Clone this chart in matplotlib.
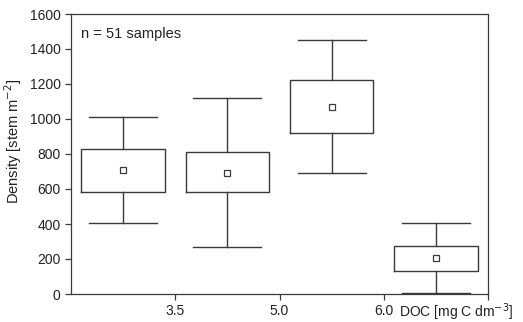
import matplotlib
matplotlib.use("Agg")
import matplotlib.pyplot as plt

plt.rcParams['font.family'] = ['Liberation Sans', 'DejaVu Sans']

# Box statistics (stem m^-2)
whisker_low = [404, 270, 693, 4]
q1 = [585, 585, 922, 133]
q3 = [827, 810, 1223, 274]
whisker_high = [1010, 1122, 1450, 404]
means = [707, 693, 1069, 204]

tick_positions = [0.5, 1.5, 2.5]
tick_labels = ["3.5", "5.0", "6.0"]
yticks = [0, 200, 400, 600, 800, 1000, 1200, 1400, 1600]

line_color = "#3a3a3a"
text_color = "#222222"

stats = []
for i in range(len(means)):
    stats.append({
        "whislo": whisker_low[i], "q1": q1[i], "med": means[i],
        "q3": q3[i], "whishi": whisker_high[i], "mean": means[i],
        "fliers": [],
    })

fig = plt.figure(figsize=(5.23, 3.22), dpi=100)
ax = fig.add_axes([71 / 523, 1 - 294 / 322, (488 - 71) / 523, (294 - 14) / 322])

lp = dict(color=line_color, linewidth=1.0)
ax.bxp(stats, positions=range(len(means)), widths=0.8, capwidths=0.65,
       showmeans=True, showfliers=False,
       boxprops=lp, whiskerprops=lp, capprops=lp,
       medianprops=dict(linewidth=0),
       meanprops=dict(marker="s", markersize=4.5, markerfacecolor="white",
                      markeredgecolor=line_color, markeredgewidth=0.9))

ax.set_xlim(-0.5, 3.5)
ax.set_ylim(0, 1600)
ax.set_xticks(tick_positions + [3.5])
ax.set_xticklabels(tick_labels + [""])
ax.set_yticks(yticks)
ax.tick_params(axis="both", direction="out", length=4, width=0.9,
               colors=line_color, labelsize=10, labelcolor=text_color)
ax.tick_params(axis="x", pad=3)
for s in ax.spines.values():
    s.set_color(line_color)
    s.set_linewidth(0.9)

ax.set_ylabel("Density [stem m$^{-2}$]", fontsize=10.5, color=text_color)
ax.yaxis.set_label_coords(-0.112, 0.546)
ax.text(0.025, 0.955, "n = 51 samples", transform=ax.transAxes,
        fontsize=10.5, color=text_color, va="top", ha="left")
ax.text(0.787, -0.026, "DOC [mg C dm$^{-3}$]", transform=ax.transAxes,
        fontsize=10, color=text_color, va="top", ha="left")

fig.savefig("out.png", dpi=100)
